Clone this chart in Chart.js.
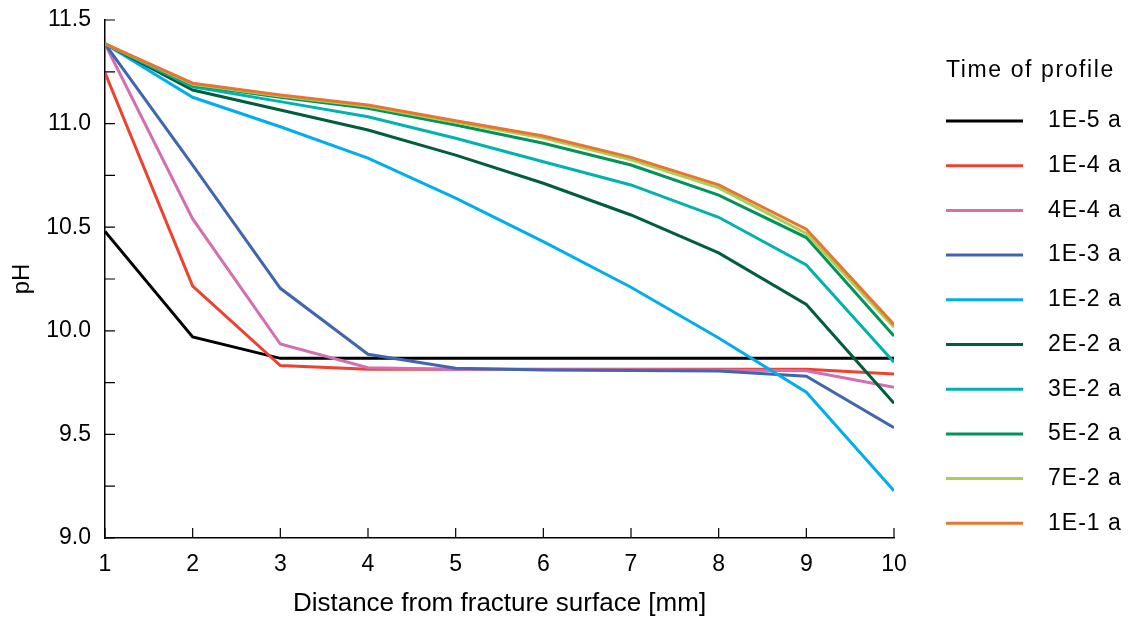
<!DOCTYPE html>
<html>
<head>
<meta charset="utf-8">
<script src="https://cdn.jsdelivr.net/npm/chart.js@4.4.1/dist/chart.umd.min.js"></script>
<style>
  body { margin: 0; background: #fff; }
  #wrap { width: 1129px; height: 621px; position: relative; }
</style>
</head>
<body>
<div id="wrap"><canvas id="chart"></canvas></div>
<script>
// distance from fracture surface (mm)
const distance = [1, 2, 3, 4, 5, 6, 7, 8, 9, 10];

// pH profiles, one per time of profile
const ph_1e5 = [10.48, 9.97, 9.867, 9.867, 9.867, 9.867, 9.867, 9.867, 9.867, 9.867];
const ph_1e4 = [11.245, 10.216, 9.832, 9.815, 9.815, 9.815, 9.815, 9.815, 9.814, 9.792];
const ph_4e4 = [11.385, 10.54, 9.936, 9.822, 9.815, 9.813, 9.812, 9.811, 9.807, 9.727];
const ph_1e3 = [11.385, 10.80, 10.205, 9.887, 9.819, 9.811, 9.809, 9.806, 9.781, 9.532];
const ph_1e2 = [11.385, 11.127, 10.985, 10.833, 10.64, 10.43, 10.21, 9.965, 9.704, 9.228];
const ph_2e2 = [11.385, 11.162, 11.066, 10.969, 10.848, 10.712, 10.559, 10.376, 10.127, 9.65];
const ph_3e2 = [11.385, 11.178, 11.106, 11.033, 10.929, 10.816, 10.704, 10.548, 10.318, 9.848];
const ph_5e2 = [11.385, 11.186, 11.127, 11.074, 10.993, 10.905, 10.80, 10.655, 10.45, 9.975];
const ph_7e2 = [11.385, 11.19, 11.133, 11.084, 11.007, 10.93, 10.825, 10.69, 10.47, 10.017];
const ph_1e1 = [11.385, 11.195, 11.138, 11.09, 11.014, 10.94, 10.837, 10.704, 10.49, 10.031];

const seriesLabels = ["1E-5 a", "1E-4 a", "4E-4 a", "1E-3 a", "1E-2 a", "2E-2 a", "3E-2 a", "5E-2 a", "7E-2 a", "1E-1 a"];
const seriesValues = [ph_1e5, ph_1e4, ph_4e4, ph_1e3, ph_1e2, ph_2e2, ph_3e2, ph_5e2, ph_7e2, ph_1e1];
const seriesColors = ["#000000", "#ee4130", "#d36eb0", "#4066b0", "#00aeef", "#005e3a", "#00b2b2", "#00935c", "#aacf53", "#e87430"];

const legendTitle = "Time of profile";
const FONT = "'Liberation Sans', Arial, Helvetica, sans-serif";

// ticks hacia dentro, dibujados con las escalas de Chart.js
const innerTicks = {
    id: "innerTicks",
    afterDraw(chart) {
        const ctx = chart.ctx;
        const x = chart.scales.x, y = chart.scales.y;
        ctx.save();
        ctx.strokeStyle = "#000";
        ctx.lineWidth = 1.2;
        ctx.beginPath();
        y.ticks.forEach((t, i) => {
            const py = y.getPixelForTick(i);
            ctx.moveTo(x.left, py);
            ctx.lineTo(x.left + 10, py);
        });
        x.ticks.forEach((t, i) => {
            const px = x.getPixelForTick(i);
            ctx.moveTo(px, y.bottom);
            ctx.lineTo(px, y.bottom - 10);
        });
        ctx.stroke();
        ctx.restore();
    }
};

// leyenda a la derecha con título
const sideLegend = {
    id: "sideLegend",
    afterDraw(chart) {
        const ctx = chart.ctx;
        const area = chart.chartArea;
        const left = area.right + 52;
        ctx.save();
        ctx.fillStyle = "#000";
        ctx.textBaseline = "middle";
        ctx.textAlign = "left";
        ctx.font = "23px " + FONT;
        ctx.letterSpacing = "1.6px";
        ctx.fillText(legendTitle, left, area.top + 51);
        ctx.letterSpacing = "1px";
        chart.data.datasets.forEach((ds, i) => {
            const yy = area.top + 101 + i * 44.7;
            ctx.strokeStyle = ds.borderColor;
            ctx.lineWidth = 3;
            ctx.beginPath();
            ctx.moveTo(left, yy);
            ctx.lineTo(left + 77, yy);
            ctx.stroke();
            ctx.fillText(ds.label, left + 102, yy);
        });
        ctx.restore();
    }
};

const datasets = seriesValues.map((vals, i) => ({
    label: seriesLabels[i],
    data: vals.map((v, j) => ({ x: distance[j], y: v })),
    borderColor: seriesColors[i],
    backgroundColor: seriesColors[i],
    borderWidth: 3,
    pointRadius: 0,
    tension: 0,
    fill: false,
    order: seriesValues.length - i
}));

new Chart(document.getElementById("chart"), {
    type: "line",
    data: { datasets: datasets },
    options: {
        responsive: true,
        maintainAspectRatio: false,
        animation: false,
        layout: { padding: { left: 0, right: 235, top: 20, bottom: 0 } },
        plugins: {
            legend: { display: false },
            tooltip: { enabled: false }
        },
        scales: {
            x: {
                type: "linear",
                min: 1,
                max: 10,
                grid: { display: false, drawTicks: false },
                border: { display: true, color: "#000", width: 1.5 },
                ticks: {
                    stepSize: 1,
                    padding: 13,
                    color: "#000",
                    font: { family: FONT, size: 23 },
                    maxRotation: 0
                },
                title: {
                    display: true,
                    text: "Distance from fracture surface [mm]",
                    color: "#000",
                    font: { family: FONT, size: 26 },
                    padding: { top: 0, bottom: 2 }
                },
                afterFit(scale) {
                    scale.height = 83;
                    scale.paddingLeft = 0;
                    scale.paddingRight = 0;
                }
            },
            y: {
                min: 9,
                max: 11.5,
                grid: { display: false, drawTicks: false },
                border: { display: true, color: "#000", width: 1.5 },
                ticks: {
                    stepSize: 0.25,
                    padding: 14,
                    color: "#000",
                    font: { family: FONT, size: 23 },
                    callback: (v) => Math.abs(v * 2 - Math.round(v * 2)) < 1e-6 ? v.toFixed(1) : ""
                },
                title: {
                    display: true,
                    text: "pH",
                    color: "#000",
                    font: { family: FONT, size: 24 },
                    padding: { top: 8, bottom: 0 }
                },
                afterFit(scale) {
                    scale.width = 105;
                    scale.paddingTop = 0;
                    scale.paddingBottom = 0;
                }
            }
        }
    },
    plugins: [innerTicks, sideLegend]
});
</script>
</body>
</html>
